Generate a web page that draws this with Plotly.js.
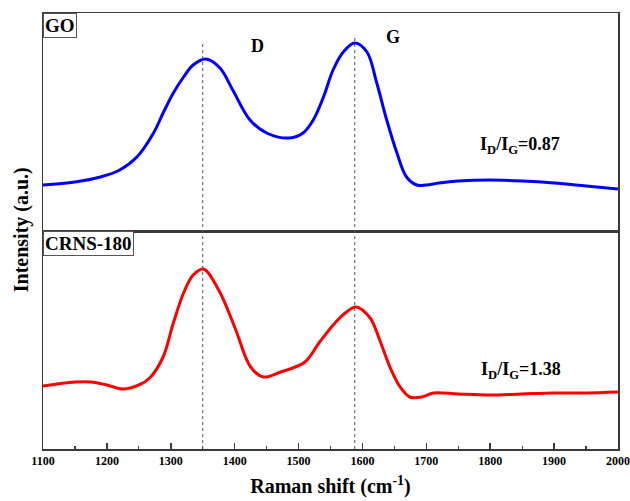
<!DOCTYPE html>
<html>
<head>
<meta charset="utf-8">
<script src="https://cdn.plot.ly/plotly-3.0.1.min.js"></script>
<style>html,body{margin:0;padding:0;background:#fff;}#chart{width:630px;height:501px;}</style>
</head>
<body>
<div id="chart"></div>
<script>
// Raman shift (cm^-1) and intensities (a.u.)
const goShift = [1100,1150,1190,1220,1247,1273,1288,1304,1320,1335,1355,1377,1397,1424,1450,1486,1507,1523,1539,1554,1570,1588,1607,1622,1638,1654,1669,1685,1700,1720,1750,1800,1850,1900,1950,2000];
const goIntensity = [46,49,54,61,74,98,118,138,154,166,172,163,141,111,98,93,98,111,134,161,179,188,179,149,111,78,54,46,46,48,50,51,50,48,45,42];

const crnsShift = [1100,1150,1175,1200,1225,1250,1267,1288,1304,1320,1335,1351,1375,1400,1425,1445,1472,1510,1533,1557,1575,1590,1612,1627,1643,1659,1674,1693,1711,1750,1800,1850,1900,1950,2000];
const crnsIntensity = [63,67,67,64,60,64,71,92,126,156,174,180,159,122,82,72,77,87,107,126,137,142,131,109,82,62,52,52,56,55,54,55,56,56,57];

const peakPositions = [1350, 1588];
const peakLabels = ['D', 'G'];
const panelLabels = ['GO', 'CRNS-180'];
const ratioLabels = ['I<sub>D</sub>/I<sub>G</sub>=0.87', 'I<sub>D</sub>/I<sub>G</sub>=1.38'];
const xTicks = [1100,1200,1300,1400,1500,1600,1700,1800,1900,2000];

const serif = 'Times New Roman';
const axisColor = '#3a3a3a';
const b = s => '<b>' + s + '</b>';

const traces = [
  {x: goShift, y: goIntensity, xaxis: 'x2', yaxis: 'y2', mode: 'lines',
   line: {color: '#0000ff', width: 3, shape: 'spline', smoothing: 1}, showlegend: false},
  {x: crnsShift, y: crnsIntensity, xaxis: 'x', yaxis: 'y', mode: 'lines',
   line: {color: '#ff0000', width: 3, shape: 'spline', smoothing: 1}, showlegend: false}
];

const layout = {
  width: 630, height: 501,
  margin: {l: 43, r: 12, t: 13, b: 52},
  paper_bgcolor: '#fff', plot_bgcolor: '#fff',
  font: {family: serif, color: '#000'},
  xaxis: {
    range: [1100, 2000], domain: [0, 1], anchor: 'y',
    showline: true, linecolor: axisColor, linewidth: 1.5, mirror: true,
    showgrid: false, zeroline: false,
    tickvals: xTicks, ticktext: xTicks.map(v => b(v)),
    ticks: 'inside', ticklen: 6, tickwidth: 1.5, tickcolor: axisColor,
    minor: {dtick: 50, tick0: 1100, ticks: 'inside', ticklen: 3, tickwidth: 1.2, tickcolor: axisColor, showgrid: false},
    ticklabeloverflow: 'allow',
    tickfont: {family: serif, size: 12},
    title: {text: b('Raman shift (cm<sup>-1</sup>)'), font: {family: serif, size: 20}, standoff: 12}
  },
  xaxis2: {
    range: [1100, 2000], domain: [0, 1], anchor: 'y2', matches: 'x',
    showline: true, linecolor: axisColor, linewidth: 1.5, mirror: true,
    showgrid: false, zeroline: false, showticklabels: false, ticks: ''
  },
  yaxis: {
    range: [0, 218], domain: [0, 0.5], anchor: 'x',
    showline: true, linecolor: axisColor, linewidth: 1.5, mirror: true,
    showgrid: false, zeroline: false, showticklabels: false, ticks: ''
  },
  yaxis2: {
    range: [0, 218], domain: [0.5, 1], anchor: 'x2',
    showline: true, linecolor: axisColor, linewidth: 1.5, mirror: true,
    showgrid: false, zeroline: false, showticklabels: false, ticks: ''
  },
  shapes: [
    {type: 'line', xref: 'x', yref: 'paper', x0: peakPositions[0], x1: peakPositions[0], y0: 0, y1: 0.931,
     line: {color: '#555', width: 1, dash: 'dot'}},
    {type: 'line', xref: 'x', yref: 'paper', x0: peakPositions[1], x1: peakPositions[1], y0: 0, y1: 0.95,
     line: {color: '#555', width: 1, dash: 'dot'}}
  ],
  annotations: [
    {xref: 'paper', yref: 'paper', x: 0, y: 1, xanchor: 'left', yanchor: 'top', showarrow: false,
     text: b(panelLabels[0]), font: {family: serif, size: 19},
     bordercolor: '#555', borderwidth: 1, borderpad: 1, bgcolor: '#fff'},
    {xref: 'paper', yref: 'paper', x: 0, y: 0.5, xanchor: 'left', yanchor: 'top', showarrow: false,
     text: b(panelLabels[1]), font: {family: serif, size: 19},
     bordercolor: '#555', borderwidth: 1, borderpad: 1, bgcolor: '#fff'},
    {xref: 'x', yref: 'paper', x: 1436, y: 0.924, xanchor: 'center', yanchor: 'middle', showarrow: false,
     text: b(peakLabels[0]), font: {family: serif, size: 18}},
    {xref: 'x', yref: 'paper', x: 1648, y: 0.945, xanchor: 'center', yanchor: 'middle', showarrow: false,
     text: b(peakLabels[1]), font: {family: serif, size: 18}},
    {xref: 'x', yref: 'paper', x: 1846, y: 0.697, xanchor: 'center', yanchor: 'middle', showarrow: false,
     text: b(ratioLabels[0]), font: {family: serif, size: 18}},
    {xref: 'x', yref: 'paper', x: 1848, y: 0.181, xanchor: 'center', yanchor: 'middle', showarrow: false,
     text: b(ratioLabels[1]), font: {family: serif, size: 18}},
    {xref: 'paper', yref: 'paper', x: -0.038, y: 0.502, xanchor: 'center', yanchor: 'middle', showarrow: false, textangle: -90,
     text: b('Intensity (a.u.)'), font: {family: serif, size: 20}}
  ]
};

Plotly.newPlot('chart', traces, layout, {displayModeBar: false, staticPlot: true});
</script>
</body>
</html>
